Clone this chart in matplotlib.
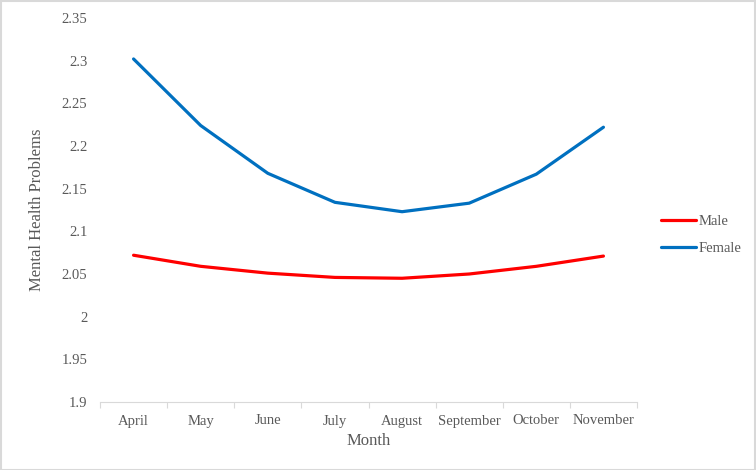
import numpy as np
import matplotlib.pyplot as plt

months = ["April", "May", "June", "July", "August", "September", "October", "November"]
male = [2.072, 2.059, 2.051, 2.046, 2.045, 2.050, 2.059, 2.071]
female = [2.302, 2.224, 2.168, 2.134, 2.123, 2.133, 2.167, 2.222]

plt.rcParams['font.family'] = ['Liberation Serif', 'DejaVu Serif']
grey = '#595959'

fig = plt.figure(figsize=(7.56, 4.70), dpi=100)
ax = fig.add_axes([100/756, 1 - 402/470, 537/756, 384/470])

x = np.arange(len(months))
ax.plot(x, male, color='#FF0000', lw=2.3, label='Male', solid_capstyle='round')
ax.plot(x, female, color='#0070C0', lw=2.3, label='Female', solid_capstyle='round')

ax.set_xlim(-0.5, len(months) - 0.5)
ax.set_ylim(1.9, 2.35)
yt = np.round(np.arange(1.9, 2.351, 0.05), 2)
ax.set_yticks(yt)
ax.set_yticklabels([f"{v:g}" for v in yt])
ax.set_xticks(x)
ax.set_xticklabels(months)
ax.set_xticks(np.arange(-0.5, len(months)), minor=True)
ax.tick_params(axis='x', which='major', length=0, pad=9, labelsize=10.5, labelcolor=grey)
ax.tick_params(axis='x', which='minor', length=4, color='#D9D9D9', width=0.8)
ax.tick_params(axis='y', length=0, pad=9, labelsize=10.5, labelcolor=grey)

for s in ['top', 'right', 'left']:
    ax.spines[s].set_visible(False)
ax.spines['bottom'].set_color('#D9D9D9')
ax.spines['bottom'].set_linewidth(0.8)

ax.set_xlabel("Month", fontsize=12, color=grey, labelpad=4)
ax.set_ylabel("Mental Health Problems", fontsize=12, color=grey, labelpad=12)

ax.legend(loc='center left', bbox_to_anchor=(1.02, 0.435), frameon=False,
          fontsize=10.5, labelcolor=grey, handlelength=2.4, handletextpad=0.2,
          labelspacing=0.95)

fig.patches.append(plt.Rectangle((0.001, 0.001), 0.998, 0.997, transform=fig.transFigure,
                                 fill=False, edgecolor='#D9D9D9', lw=1.5))

fig.savefig("out.png", dpi=100)
